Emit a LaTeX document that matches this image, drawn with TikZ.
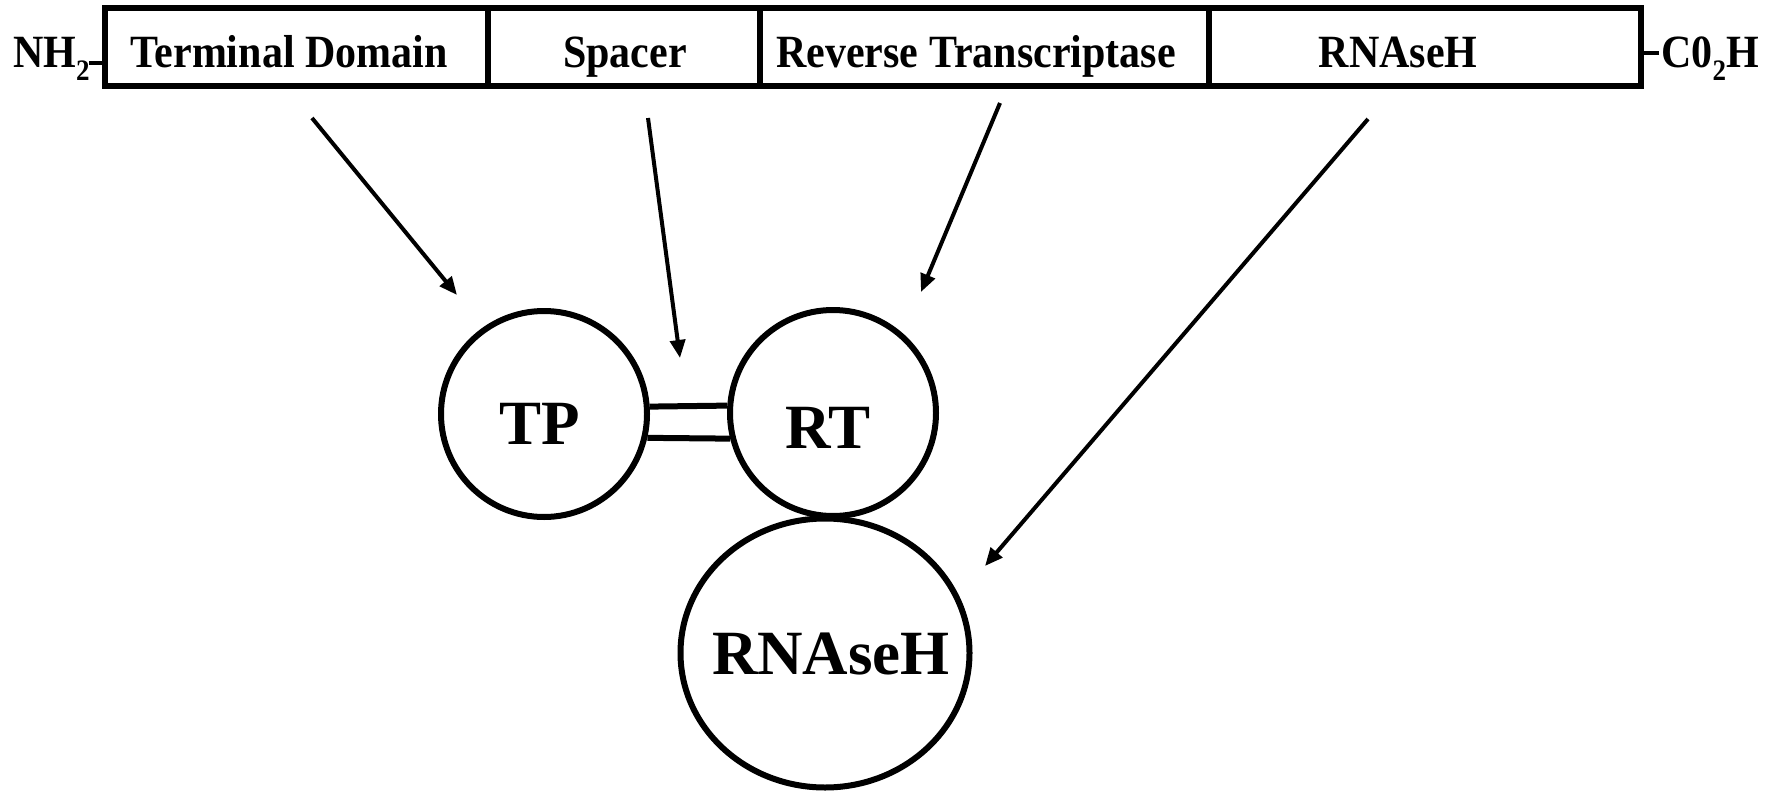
\documentclass[tikz,border=0pt]{standalone}
\usepackage{fontspec}
\usepackage{graphicx}
\setmainfont{Liberation Serif}
\usetikzlibrary{arrows.meta,shapes.geometric}
\newcommand{\talltext}[1]{\scalebox{1}[1.1]{#1}}
\tikzset{
  seg/.style={draw,line width=5.5pt,rectangle,inner sep=0pt,minimum height=78pt},
  toplbl/.style={inner sep=0pt,anchor=base,font=\fontsize{42}{50}\selectfont\bfseries},
  bigcirc/.style={draw,line width=6pt,circle,inner sep=0pt,minimum size=206pt},
  biglbl/.style={inner sep=0pt,font=\fontsize{63}{70}\selectfont\bfseries},
  arr/.style={line width=4pt,-{Triangle[length=18pt,width=15pt]}},
  link/.style={line width=6pt},
  dashl/.style={line width=4.5pt}
}
\begin{document}
\begin{tikzpicture}[x=1pt,y=-1pt]
\useasboundingbox (0,0) rectangle (1775,792);
% top bar
\node[seg,minimum width=383pt] (s1) at (296.5,47) {};
\node[seg,minimum width=272pt] (s2) at (624,47) {};
\node[seg,minimum width=449pt] (s3) at (984.5,47) {};
\node[seg,minimum width=432pt] (s4) at (1425,47) {};
\node[toplbl] (l1) at (289,67.5) {\talltext{Terminal Domain}};
\node[toplbl] (l2) at (625,67.5) {\talltext{Spacer}};
\node[toplbl] (l3) at (976,67.5) {\talltext{Reverse Transcriptase}};
\node[toplbl] (l4) at (1398,67.5) {\talltext{RNAseH}};
% termini
\node[toplbl,anchor=base west] (nh) at (13,67) {\talltext{NH\raisebox{-12pt}{\fontsize{27}{27}\selectfont 2}}};
\node[toplbl,anchor=base west] (co) at (1661,67) {\talltext{C0\raisebox{-12pt}{\fontsize{27}{27}\selectfont 2}H}};
\coordinate (nhd) at (89,63);
\coordinate (cod) at (1659,53);
\draw[dashl] (nhd) -- (nhd -| s1.west);
\draw[dashl] (cod) -- (cod -| s4.east);
% domains
\node[bigcirc] (TP) at (544,414) {};
\node[bigcirc] (RT) at (833,413) {};
\node[draw,line width=6pt,ellipse,inner sep=0pt,minimum width=289pt,minimum height=269pt] (RH) at (825,653) {};
\node[biglbl] (TPt) at (540,424) {TP};
\node[biglbl] (RTt) at (828,428) {RT};
\node[biglbl] (RHt) at (831,654) {RNAseH};
% double link
\draw[link] (TP.4) -- (RT.176.7);
\draw[link] (TP.-13.3) -- (RT.-166.1);
% arrows
\coordinate (a1s) at (312,118); \coordinate (a1e) at (457,295);
\coordinate (a2s) at (648,118); \coordinate (a2e) at (680,358);
\coordinate (a3s) at (1000,103); \coordinate (a3e) at (921,292);
\coordinate (a4s) at (1368,119); \coordinate (a4e) at (985,566);
\draw[arr] (a1s) -- (a1e);
\draw[arr] (a2s) -- (a2e);
\draw[arr] (a3s) -- (a3e);
\draw[arr] (a4s) -- (a4e);
\end{tikzpicture}
\end{document}
